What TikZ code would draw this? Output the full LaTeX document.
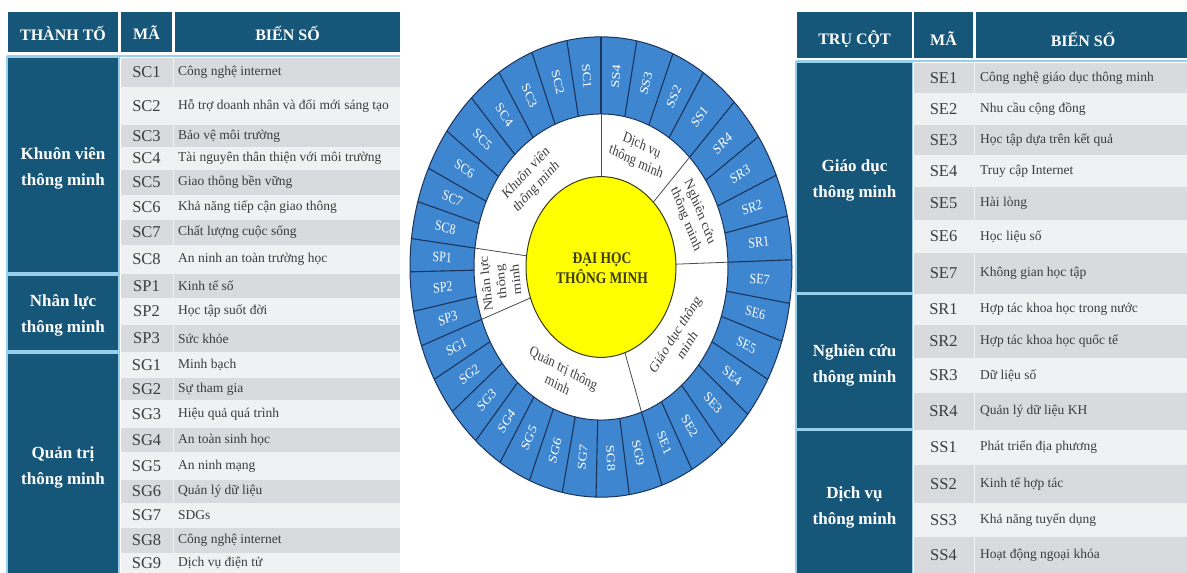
\documentclass[tikz,border=0pt]{standalone}
\usepackage{fontspec}
\setmainfont{Liberation Serif}
\definecolor{hdr}{RGB}{22,86,120}
\definecolor{sepblue}{RGB}{150,208,236}
\definecolor{rowg}{RGB}{216,218,222}
\definecolor{roww}{RGB}{240,241,243}
\definecolor{txtgray}{RGB}{60,60,60}
\definecolor{ringblue}{RGB}{62,134,208}
\definecolor{ringline}{RGB}{26,52,92}
\definecolor{yel}{RGB}{255,255,0}
\definecolor{yeledge}{RGB}{60,60,20}
\tikzset{
  hdrtxt/.style={text=white, font=\fontsize{16}{18}\selectfont\bfseries, inner sep=0pt},
  coltxt/.style={text=white, align=center, font=\fontsize{17}{26}\selectfont\bfseries, inner sep=0pt},
  codetxt/.style={text=txtgray, font=\fontsize{16.5}{18}\selectfont, inner sep=0pt},
  desctxt/.style={text=txtgray, anchor=west, font=\fontsize{13.5}{15}\selectfont, inner sep=0pt},
  ringlab/.style={text=white, font=\fontsize{12}{13}\selectfont, inner sep=0pt},
  innerlab/.style={text=black!75, align=center, font=\fontsize{12.5}{15}\selectfont, inner sep=0pt},
  centertxt/.style={text=yeledge, align=center, font=\fontsize{13.5}{16}\selectfont\bfseries, inner sep=0pt},
  ringedge/.style={draw=ringline, line width=1pt},
  segline/.style={draw=ringline, line width=1.1pt},
  innerline/.style={draw=black!70, line width=0.8pt},
  sepline/.style={draw=sepblue, line width=1.5pt}
}
\begin{document}
\begin{tikzpicture}[x=1pt,y=-1pt]
\useasboundingbox (0,0) rectangle (1187,573);
\fill[white] (0,0) rectangle (1187,573);

% ---------------- LEFT TABLE ----------------
\fill[hdr] (8,12) rectangle (118,52);
\fill[hdr] (121,12) rectangle (172,52);
\fill[hdr] (175,12) rectangle (400,52);
\node[hdrtxt] (lh1) at (63,33) {THÀNH TỐ};
\node[hdrtxt] (lh2) at (146.5,33) {MÃ};
\node[hdrtxt] (lh3) at (287.5,33) {BIẾN SỐ};
\draw[sepline] (7,56) -- (400,56);
\fill[sepblue] (6,56) rectangle (120,573);
\fill[hdr] (8,58) rectangle (118,272);
\fill[hdr] (8,276) rectangle (118,350);
\fill[hdr] (8,354) rectangle (118,573);
\node[coltxt] (lkv) at (63,168) {Khuôn viên\\thông minh};
\node[coltxt] (lnl) at (63,315) {Nhân lực\\thông minh};
\node[coltxt] (lqt) at (63,467) {Quản trị\\thông minh};
\foreach \c/\t/\ya/\yb/\s in {
  SC1/Công nghệ internet/58/87/rowg,
  SC2/Hỗ trợ doanh nhân và đổi mới sáng tạo/87/125/roww,
  SC3/Bảo vệ môi trường/125/147/rowg,
  SC4/Tài nguyên thân thiện với môi trường/147/170/roww,
  SC5/Giao thông bền vững/170/195/rowg,
  SC6/Khả năng tiếp cận giao thông/195/220/roww,
  SC7/Chất lượng cuộc sống/220/245/rowg,
  SC8/An ninh an toàn trường học/245/274/roww,
  SP1/Kinh tế số/274/298/rowg,
  SP2/Học tập suốt đời/298/325/roww,
  SP3/Sức khỏe/325/352/rowg,
  SG1/Minh bạch/352/378/roww,
  SG2/Sự tham gia/378/400/rowg,
  SG3/Hiệu quả quá trình/400/428/roww,
  SG4/An toàn sinh học/428/452/rowg,
  SG5/An ninh mạng/452/480/roww,
  SG6/Quản lý dữ liệu/480/503/rowg,
  SG7/SDGs/503/528/roww,
  SG8/Công nghệ internet/528/553/rowg,
  SG9/Dịch vụ điện tử/553/573/roww}{
  \fill[\s] (121,\ya) rectangle (400,\yb);
  \node[codetxt] (L\c) at (146.5,{(\ya+\yb)/2}) {\c};
  \node[desctxt] (LT\c) at (178,{(\ya+\yb)/2}) {\t};
}
\draw[white!60!rowg, line width=0.8pt] (173.5,58) -- (173.5,573);

% ---------------- RIGHT TABLE ----------------
\fill[hdr] (797,12) rectangle (912,58);
\fill[hdr] (914,12) rectangle (973,58);
\fill[hdr] (976,12) rectangle (1187,58);
\node[hdrtxt] (rh1) at (854.5,39) {TRỤ CỘT};
\node[hdrtxt] (rh2) at (943.5,39) {MÃ};
\node[hdrtxt] (rh3) at (1083,39) {BIẾN SỐ};
\draw[sepline] (796,61) -- (1187,61);
\fill[sepblue] (795,61) rectangle (913,573);
\fill[hdr] (797,63) rectangle (912,292);
\fill[hdr] (797,295) rectangle (912,428);
\fill[hdr] (797,431) rectangle (912,573);
\node[coltxt] (rgd) at (854.5,180) {Giáo dục\\thông minh};
\node[coltxt] (rnc) at (854.5,365) {Nghiên cứu\\thông minh};
\node[coltxt] (rdv) at (854.5,507) {Dịch vụ\\thông minh};
\foreach \c/\t/\ya/\yb/\s in {
  SE1/Công nghệ giáo dục thông minh/63/93/rowg,
  SE2/Nhu cầu cộng đồng/93/125/roww,
  SE3/Học tập dựa trên kết quả/125/155/rowg,
  SE4/Truy cập Internet/155/187/roww,
  SE5/Hài lòng/187/220/rowg,
  SE6/Học liệu số/220/253/roww,
  SE7/Không gian học tập/253/293.5/rowg,
  SR1/Hợp tác khoa học trong nước/293.5/325/roww,
  SR2/Hợp tác khoa học quốc tế/325/358/rowg,
  SR3/Dữ liệu số/358/393/roww,
  SR4/Quản lý dữ liệu KH/393/429.5/rowg,
  SS1/Phát triển địa phương/429.5/465/roww,
  SS2/Kinh tế hợp tác/465/503/rowg,
  SS3/Khả năng tuyển dụng/503/537/roww,
  SS4/Hoạt động ngoại khóa/537/573/rowg}{
  \fill[\s] (914,\ya) rectangle (1187,\yb);
  \node[codetxt] (R\c) at (943.5,{(\ya+\yb)/2}) {\c};
  \node[desctxt] (RT\c) at (980,{(\ya+\yb)/2}) {\t};
}
\draw[white!60!rowg, line width=0.8pt] (974.5,63) -- (974.5,573);

% ---------------- WHEEL ----------------
\begin{scope}[shift={(601,267)}, y=1pt, yscale=1.205, transform shape]
  \fill[ringblue] (0,0) circle[radius=191];
  \fill[white] (0,0) circle[radius=127];
  \foreach \a in {90,100.3,111.2,122.3,132.7,143.8,154.6,163.5,172.9,181.2,191.1,200,209.2,218.9,229,238.1,248,258.3,268.5,278.5,288.6,298.4,309.4,320.2,330.8,341.2,350.9,361.8,372.8,383.5,394.5,405.8,417.6,427.9,439.2}
    \draw[segline] (\a:127) -- (\a:191);
  \draw[ringedge] (0,0) circle[radius=191];
  \draw[ringedge] (0,0) circle[radius=127];
  \foreach \a in {90,172.9,200,288.6,361.8,405.8}
    \draw[innerline] (\a:75) -- (\a:127);
  \filldraw[fill=yel, draw=yeledge, line width=1pt] (0,0) circle[radius=75];
  \foreach \a/\b/\lab in {90/100.3/SC1, 100.3/111.2/SC2, 111.2/122.3/SC3, 122.3/132.7/SC4, 132.7/143.8/SC5, 143.8/154.6/SC6, 154.6/163.5/SC7, 163.5/172.9/SC8, 172.9/181.2/SP1, 181.2/191.1/SP2, 191.1/200/SP3, 200/209.2/SG1, 209.2/218.9/SG2, 218.9/229/SG3, 229/238.1/SG4, 238.1/248/SG5, 248/258.3/SG6, 258.3/268.5/SG7, 268.5/278.5/SG8, 278.5/288.6/SG9, 288.6/298.4/SE1, 298.4/309.4/SE2, 309.4/320.2/SE3, 320.2/330.8/SE4, 330.8/341.2/SE5, 341.2/350.9/SE6, 350.9/361.8/SE7, 361.8/372.8/SR1, 372.8/383.5/SR2, 383.5/394.5/SR3, 394.5/405.8/SR4, 405.8/417.6/SS1, 417.6/427.9/SS2, 427.9/439.2/SS3, 439.2/450/SS4}{
    \pgfmathsetmacro\mid{(\a+\b)/2}
    \pgfmathsetmacro\rot{cos(\mid)>0 ? \mid : \mid+180}
    \node[ringlab, rotate=\rot] (W\lab) at (\mid:159) {\lab};
  }
  \node[innerlab, rotate=42] (wkv) at (134:100) {Khuôn viên\\thông minh};
  \node[innerlab, rotate=-22] (wdv) at (68:101) {Dịch vụ\\thông minh};
  \node[innerlab, rotate=-65] (wnc) at (25:101) {Nghiên cứu\\thông minh};
  \node[innerlab, rotate=53] (wgd) at (-37:100) {Giáo dục thông\\minh};
  \node[innerlab, rotate=-24] (wqt) at (246:99) {Quản trị thông\\minh};
  \node[innerlab, rotate=96.5] (wnl) at (187:101) {Nhân lực\\thông\\minh};
  \node[centertxt] (ctr) at (1,-1) {ĐẠI HỌC\\THÔNG MINH};
\end{scope}
\end{tikzpicture}
\end{document}
